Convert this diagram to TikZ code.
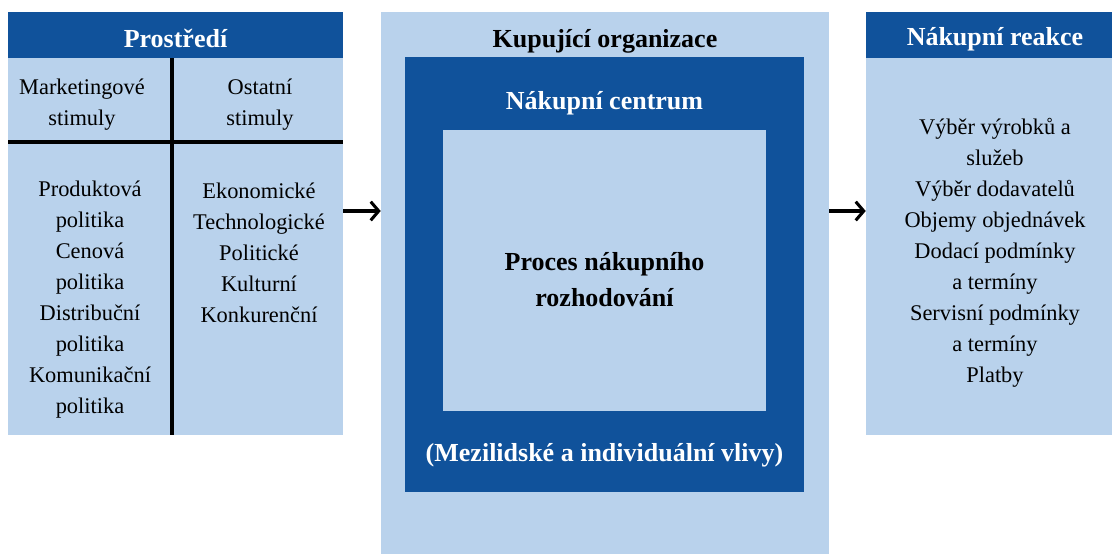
\documentclass[tikz,border=0pt]{standalone}
\usepackage{fontspec}
\setmainfont{Liberation Serif}
\usetikzlibrary{arrows.meta,fit}
\definecolor{tmave}{RGB}{16,82,155}
\definecolor{svetle}{RGB}{185,210,236}

\begin{document}
\begin{tikzpicture}[x=0.75pt,y=0.75pt,yscale=-1,xscale=1,
  panel/.style={fill=svetle, draw=none, inner sep=0pt},
  hlavicka/.style={fill=tmave, draw=none, inner sep=0pt},
  nadpis/.style={font=\fontsize{19.5}{27}\selectfont\bfseries, align=center},
  polozky/.style={font=\fontsize{16.8}{23.25}\selectfont, align=center},
  delic/.style={line width=2.3pt, black},
  sipka/.style={line width=2.3pt, -{Straight Barb[length=6pt,width=14pt]}}]
\useasboundingbox (0,0) rectangle (1112,554);

%Shape: Rectangle -- Prostredi
\node[panel, fit={(8,12) (343,435)}] (prostredi) {};
\node[hlavicka, fit={(8,12) (343,58)}] (prostrediH) {};
%Straight Lines
\draw[delic] (172,58) -- (172,435);
\draw[delic] (8,142) -- (343,142);

%Shape: Rectangle -- Kupujici organizace
\node[panel, fit={(381,12) (829,554)}] (organizace) {};
\node[hlavicka, fit={(405,57) (804,492)}] (centrum) {};
\node[panel, fit={(443,130) (766,411)}] (proces) {};

%Shape: Rectangle -- Nakupni reakce
\node[panel, fit={(866,12) (1112,435)}] (reakce) {};
\node[hlavicka, fit={(866,12) (1112,58)}] (reakceH) {};

%Arrows
\draw[sipka] (prostredi.east |- 0,211) -- (organizace.west |- 0,211);
\draw[sipka] (organizace.east |- 0,211) -- (reakce.west |- 0,211);

% Text Node
\node[nadpis, text=white] (prostrediT) at (175.5,38) {Prostředí};
% Text Node
\node[polozky] (marketing) at (82,105) {Marketingové\\stimuly};
% Text Node
\node[polozky] (ostatni) at (260,105) {Ostatní\\stimuly};
% Text Node
\node[polozky] (nastroje) at (90,299.5) {Produktová\\politika\\Cenová\\politika\\Distribuční\\politika\\Komunikační\\politika};
% Text Node
\node[polozky] (faktory) at (259,253) {Ekonomické\\Technologické\\Politické\\Kulturní\\Konkurenční};

% Text Node
\node[nadpis] (organizaceT) at (605,41) {Kupující organizace};
% Text Node
\node[nadpis, text=white] (centrumT) at (604.5,103) {Nákupní centrum};
% Text Node
\node[nadpis] (procesT) at (604.5,279.5) {Proces nákupního\\rozhodování};
% Text Node
\node[nadpis, text=white] (vlivy) at (604.5,455.5) {(Mezilidské a individuální vlivy)};

% Text Node
\node[nadpis, text=white] (reakceT) at (995,39.5) {Nákupní reakce};
% Text Node
\node[polozky] (vysledky) at (995,252.5) {Výběr výrobků a\\služeb\\Výběr dodavatelů\\Objemy objednávek\\Dodací podmínky\\a termíny\\Servisní podmínky\\a termíny\\Platby};

\end{tikzpicture}
\end{document}
